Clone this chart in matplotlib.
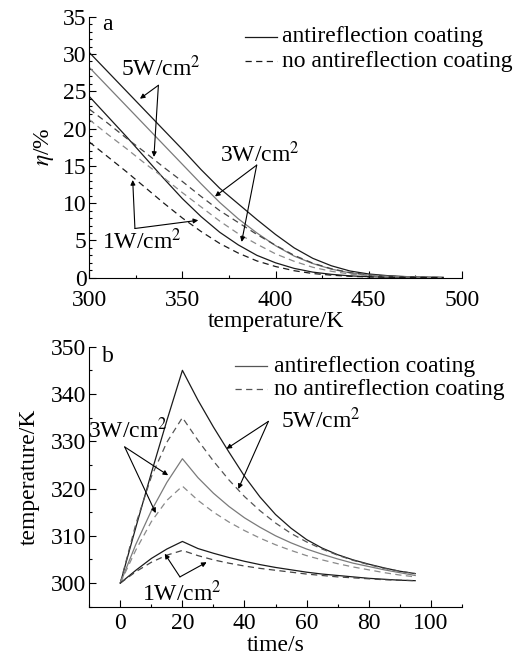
import matplotlib
matplotlib.use("Agg")
import matplotlib.pyplot as plt
from matplotlib.ticker import MultipleLocator

plt.rcParams['font.family'] = ['Liberation Serif', 'DejaVu Serif']
plt.rcParams['mathtext.fontset'] = 'stix'
fs = 17

# panel a: efficiency vs temperature
temp = [300, 310, 320, 330, 340, 350, 360, 370, 380, 390,
        400, 410, 420, 430, 440, 450, 460, 470, 480, 490]
eta_ar_5 = [30.2, 27.6, 25.0, 22.4, 19.8, 17.2, 14.5, 12.0, 9.9, 7.8,
            5.8, 4.0, 2.6, 1.6, 0.9, 0.5, 0.28, 0.15, 0.08, 0.05]
eta_ar_3 = [28.2, 25.6, 23.0, 20.4, 17.8, 15.2, 12.6, 10.1, 7.9, 6.0,
            4.3, 2.9, 1.9, 1.15, 0.65, 0.37, 0.2, 0.11, 0.06, 0.03]
eta_ar_1 = [24.3, 21.6, 18.9, 16.1, 13.3, 10.6, 8.2, 6.1, 4.4, 3.0,
            2.0, 1.25, 0.75, 0.45, 0.25, 0.14, 0.08, 0.04, 0.02, 0.01]
eta_no_5 = [22.6, 20.7, 18.7, 16.8, 14.8, 12.9, 10.9, 9.0, 7.4, 5.8,
            4.35, 3.0, 1.95, 1.2, 0.68, 0.38, 0.21, 0.11, 0.06, 0.04]
eta_no_3 = [21.2, 19.2, 17.3, 15.3, 13.4, 11.4, 9.5, 7.6, 5.9, 4.5,
            3.2, 2.2, 1.4, 0.86, 0.49, 0.28, 0.15, 0.08, 0.05, 0.02]
eta_no_1 = [18.2, 16.2, 14.2, 12.1, 10.0, 8.0, 6.2, 4.6, 3.3, 2.25,
            1.5, 0.94, 0.56, 0.34, 0.19, 0.1, 0.06, 0.03, 0.015, 0.01]

# panel b: temperature vs time
time = [0, 5, 10, 15, 20, 25, 30, 35, 40, 45, 50, 55, 60, 65, 70, 75, 80, 85, 90, 95]
T_ar_5 = [300, 311.8, 323.3, 334.4, 345.0, 338.7, 333.0, 327.7, 322.6, 318.2,
          314.5, 311.6, 309.2, 307.4, 306.0, 304.9, 304.0, 303.2, 302.5, 302.0]
T_no_5 = [300, 312.5, 322.5, 329.8, 335.0, 330.2, 325.8, 321.8, 318.3, 315.3,
          312.7, 310.5, 308.7, 307.2, 305.9, 304.8, 303.9, 303.1, 302.5, 302.0]
T_ar_3 = [300, 308.2, 315.3, 321.3, 326.3, 322.3, 319.0, 316.2, 313.8, 311.8,
          310.0, 308.5, 307.2, 306.1, 305.1, 304.2, 303.5, 302.8, 302.2, 301.6]
T_no_3 = [300, 307.0, 313.0, 317.5, 320.5, 317.5, 315.0, 312.9, 311.1, 309.5,
          308.1, 306.9, 305.8, 304.9, 304.1, 303.4, 302.8, 302.2, 301.7, 301.3]
T_ar_1 = [300, 302.7, 305.2, 307.2, 308.8, 307.3, 306.3, 305.4, 304.6, 303.9,
          303.3, 302.8, 302.3, 301.9, 301.6, 301.3, 301.0, 300.8, 300.6, 300.5]
T_no_1 = [300, 302.4, 304.4, 305.9, 306.9, 305.8, 304.9, 304.2, 303.6, 303.1,
          302.7, 302.3, 301.9, 301.6, 301.3, 301.1, 300.9, 300.7, 300.6, 300.5]

legend_labels = ["antireflection coating", "no antireflection coating"]

lw = 0.9
dash = (5, 3.5)
dark = '#1a1a1a'
grey = '#7a7a7a'

fig = plt.figure(figsize=(5.18, 6.57), dpi=100)
ax1 = fig.add_axes([0.1724, 0.5773, 0.719, 0.3973])
ax2 = fig.add_axes([0.1724, 0.0766, 0.719, 0.3957])


def style_axes(ax, xpad):
    for s in ['top', 'right']:
        ax.spines[s].set_visible(False)
    ax.tick_params(which='both', direction='in', labelsize=fs, width=0.8)
    ax.tick_params(which='major', length=5)
    ax.tick_params(which='minor', length=2.5)
    ax.tick_params(axis='x', pad=xpad)
    ax.tick_params(axis='y', pad=2)


def legend_lines(ax, x0, x1, xt, ys, color):
    ax.plot([x0, x1], [ys[0], ys[0]], color=color, lw=lw, transform=ax.transAxes, clip_on=False)
    ax.plot([x0, x1], [ys[1], ys[1]], color=color, lw=lw, dashes=dash, transform=ax.transAxes, clip_on=False)
    for y, lab in zip(ys, legend_labels):
        ax.text(xt, y, lab, transform=ax.transAxes, fontsize=fs, va='center', ha='left')


def arrow(ax, start, tip):
    ax.annotate("", xy=tip, xytext=start,
                arrowprops=dict(arrowstyle='-|>', color='black', lw=0.8,
                                mutation_scale=7, shrinkA=0, shrinkB=0))


# ---- panel a ----
ax1.plot(temp, eta_ar_5, color=dark, lw=lw)
ax1.plot(temp, eta_ar_3, color=grey, lw=lw)
ax1.plot(temp, eta_ar_1, color=dark, lw=lw)
ax1.plot(temp, eta_no_5, color='#444444', lw=lw, dashes=dash)
ax1.plot(temp, eta_no_3, color='#8a8a8a', lw=lw, dashes=dash)
ax1.plot(temp, eta_no_1, color=dark, lw=lw, dashes=dash)

ax1.set_xlim(300, 500)
ax1.set_ylim(0, 35)
ax1.xaxis.set_major_locator(MultipleLocator(50))
ax1.xaxis.set_minor_locator(MultipleLocator(25))
ax1.yaxis.set_major_locator(MultipleLocator(5))
ax1.yaxis.set_minor_locator(MultipleLocator(1))
style_axes(ax1, 8.5)
ax1.set_xlabel("temperature/K", fontsize=fs, labelpad=0)
ax1.set_ylabel(r"$\eta$/%", fontsize=fs, labelpad=5)
ax1.text(309.5, 33.9, "a", fontsize=fs, ha='center', va='center')
legend_lines(ax1, 0.418, 0.503, 0.518, [0.923, 0.829], dark)

ax1.text(338.5, 28.0, r"5W/cm$^{2}$", fontsize=fs, ha='center', va='center')
arrow(ax1, (337.1, 25.8), (327.2, 24.0))
arrow(ax1, (337.1, 25.8), (334.7, 16.2))
ax1.text(391.7, 16.5, r"3W/cm$^{2}$", fontsize=fs, ha='center', va='center')
arrow(ax1, (389.9, 15.1), (367.5, 10.9))
arrow(ax1, (389.9, 15.1), (381.8, 4.8))
ax1.text(328.1, 4.9, r"1W/cm$^{2}$", fontsize=fs, ha='center', va='center')
arrow(ax1, (324.5, 6.6), (323.3, 13.1))
arrow(ax1, (324.5, 6.6), (358.5, 7.7))

# ---- panel b ----
ax2.plot(time, T_ar_5, color=dark, lw=lw)
ax2.plot(time, T_no_5, color='#555555', lw=lw, dashes=dash)
ax2.plot(time, T_ar_3, color=grey, lw=lw)
ax2.plot(time, T_no_3, color='#8a8a8a', lw=lw, dashes=dash)
ax2.plot(time, T_ar_1, color=dark, lw=lw)
ax2.plot(time, T_no_1, color='#444444', lw=lw, dashes=dash)

ax2.set_xlim(-10, 110)
ax2.set_ylim(295, 350)
ax2.xaxis.set_major_locator(MultipleLocator(20))
ax2.xaxis.set_minor_locator(MultipleLocator(10))
ax2.yaxis.set_major_locator(MultipleLocator(10))
ax2.yaxis.set_minor_locator(MultipleLocator(5))
style_axes(ax2, 4.5)
ax2.set_xlabel("time/s", fontsize=fs, labelpad=1)
ax2.set_ylabel("temperature/K", fontsize=fs, labelpad=8)
ax2.text(-4, 347.9, "b", fontsize=fs, ha='center', va='center')
legend_lines(ax2, 0.391, 0.476, 0.497, [0.925, 0.836], '#555555')

ax2.text(64.5, 334.4, r"5W/cm$^{2}$", fontsize=fs, ha='center', va='center')
arrow(ax2, (47.7, 334.2), (34.2, 328.4))
arrow(ax2, (47.7, 334.2), (38.0, 319.9))
ax2.text(2.4, 332.3, r"3W/cm$^{2}$", fontsize=fs, ha='center', va='center')
arrow(ax2, (1.4, 328.8), (15.4, 322.8))
arrow(ax2, (1.4, 328.8), (11.4, 314.8))
ax2.text(19.7, 297.9, r"1W/cm$^{2}$", fontsize=fs, ha='center', va='center')
arrow(ax2, (19.2, 301.3), (14.3, 306.2))
arrow(ax2, (19.2, 301.3), (27.8, 304.4))

fig.savefig("out.png", dpi=100)
